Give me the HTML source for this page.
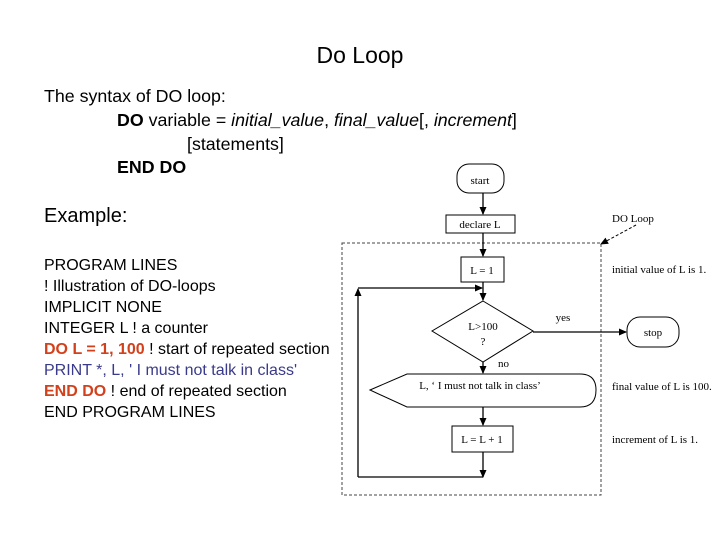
<!DOCTYPE html>
<html><head><style>
body{margin:0;width:720px;height:540px;background:#fff;position:relative;overflow:hidden;font-family:"Liberation Sans",sans-serif;color:#000}
.t{position:absolute;white-space:nowrap;font-size:17.8px;line-height:20px}
.p{font-size:16px;line-height:20px}
.r{color:#d2401c;font-weight:bold}
.b{color:#3a3a8a}
</style></head><body>
<div class="t" style="left:0;width:720px;text-align:center;top:42px;font-size:23px;line-height:26px">Do Loop</div>
<div class="t" style="left:44px;top:86px">The syntax of DO loop:</div>
<div class="t" style="left:117px;top:110px"><b>DO</b> variable = <i>initial_value</i>, <i>final_value</i>[, <i>increment</i>]</div>
<div class="t" style="left:187px;top:134px">[statements]</div>
<div class="t" style="left:117px;top:157px"><b>END DO</b></div>
<div class="t" style="left:44px;top:205px;font-size:20px;line-height:22px">Example:</div>
<div class="t p" style="left:44px;top:256px">PROGRAM LINES</div>
<div class="t p" style="left:44px;top:277px">! Illustration of DO-loops</div>
<div class="t p" style="left:44px;top:298px">IMPLICIT NONE</div>
<div class="t p" style="left:44px;top:319px">INTEGER L ! a counter</div>
<div class="t p" style="left:44px;top:340px"><span class="r">DO L = 1, 100</span> ! start of repeated section</div>
<div class="t p b" style="left:44px;top:361px">PRINT *, L, ' I must not talk in class'</div>
<div class="t p" style="left:44px;top:382px"><span class="r">END DO</span> ! end of repeated section</div>
<div class="t p" style="left:44px;top:403px">END PROGRAM LINES</div>
<svg width="720" height="540" style="position:absolute;left:0;top:0" font-family="Liberation Serif,serif" font-size="11">
<defs><marker id="a" markerWidth="8" markerHeight="8" refX="7" refY="4" orient="auto" markerUnits="userSpaceOnUse"><path d="M0,0.5 L8,4 L0,7.5z" fill="#000"/></marker></defs>
<g fill="none" stroke="#000" stroke-width="1">
<rect x="342" y="243" width="259" height="252" stroke-dasharray="3,2" stroke="#444"/>
<rect x="457" y="164" width="47" height="29" rx="12"/>
<rect x="446" y="215" width="69" height="18"/>
<rect x="461" y="257" width="43" height="25"/>
<path d="M483,301 L533,331 L483,362 L432,331z"/>
<rect x="627" y="317" width="52" height="30" rx="13"/>
<path d="M370,390 L407,374 L580,374 Q596,374 596,390 Q596,407 580,407 L407,407z"/>
<rect x="452" y="426" width="61" height="26"/>
<g stroke-width="1.3">
<line x1="483" y1="193" x2="483" y2="214" marker-end="url(#a)"/>
<line x1="483" y1="233" x2="483" y2="256" marker-end="url(#a)"/>
<line x1="483" y1="282" x2="483" y2="300" marker-end="url(#a)"/>
<line x1="483" y1="362" x2="483" y2="373" marker-end="url(#a)"/>
<line x1="483" y1="407" x2="483" y2="425" marker-end="url(#a)"/>
<line x1="483" y1="452" x2="483" y2="477" marker-end="url(#a)"/>
<line x1="483" y1="477" x2="358" y2="477"/>
<line x1="358" y1="477" x2="358" y2="289" marker-end="url(#a)"/>
<line x1="358" y1="288" x2="482" y2="288" marker-end="url(#a)"/>
<line x1="533" y1="332" x2="626" y2="332" marker-end="url(#a)"/>
</g>
<line x1="636" y1="225" x2="601" y2="244" stroke-dasharray="3,2" marker-end="url(#a)"/>
</g>
<g fill="#000">
<text x="480" y="184" text-anchor="middle">start</text>
<text x="480" y="228" text-anchor="middle">declare L</text>
<text x="482" y="274" text-anchor="middle">L = 1</text>
<text x="483" y="330" text-anchor="middle">L&gt;100</text>
<text x="483" y="345" text-anchor="middle">?</text>
<text x="563" y="321" text-anchor="middle">yes</text>
<text x="498" y="367">no</text>
<text x="653" y="336" text-anchor="middle">stop</text>
<text x="480" y="389" text-anchor="middle">L, ‘ I must not talk in class’</text>
<text x="482" y="443" text-anchor="middle">L = L + 1</text>
<text x="612" y="222">DO Loop</text>
<text x="612" y="273">initial value of L is 1.</text>
<text x="612" y="390">final value of L is 100.</text>
<text x="612" y="443">increment of L is 1.</text>
</g>
</svg>
</body></html>
